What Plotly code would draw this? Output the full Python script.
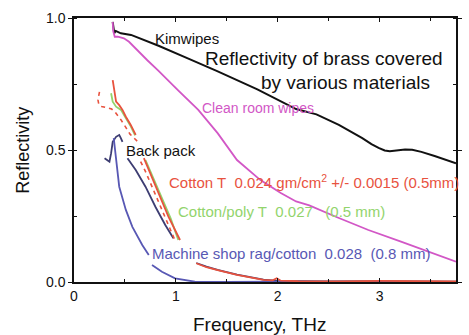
import plotly.graph_objects as go

FONT = "Arial, Liberation Sans, sans-serif"

# ---- data ----
kim_x = [0.38, 0.385, 0.395, 0.41, 0.46, 0.56, 0.83, 1.10, 1.40, 1.80, 2.18, 2.38, 2.60, 2.83, 2.92,
         2.99, 3.05, 3.10, 3.17, 3.25, 3.32, 3.41, 3.54, 3.66, 3.75]
kim_y = [0.985, 0.96, 0.943, 0.951, 0.942, 0.936, 0.895, 0.85, 0.80, 0.73, 0.655, 0.635, 0.595, 0.545,
         0.522, 0.508, 0.498, 0.495, 0.497, 0.502, 0.501, 0.493, 0.477, 0.462, 0.45]

clean_x = [0.38, 0.385, 0.40, 0.43, 0.49, 0.54, 0.72, 0.83, 1.02, 1.22, 1.41, 1.60, 1.83, 2.03, 2.18,
           2.31, 2.57, 2.89, 3.21, 3.47, 3.66, 3.75]
clean_y = [0.985, 0.95, 0.929, 0.929, 0.923, 0.91, 0.84, 0.80, 0.727, 0.652, 0.564, 0.462, 0.386,
           0.337, 0.305, 0.29, 0.247, 0.197, 0.153, 0.115, 0.09, 0.077]

cotton_x = [0.38, 0.396, 0.413, 0.444, 0.476, 0.509, 0.557, 0.606, None,
            0.686, 0.734, 0.831, 0.928, 1.041, None,
            1.20, 1.30, 1.41, 1.60, 1.86, 1.95, 1.99, 2.03, 2.20, 2.60, 3.00, 3.40, 3.75]
cotton_y = [0.765, 0.727, 0.683, 0.670, 0.652, 0.626, 0.595, 0.557, None,
            0.469, 0.424, 0.336, 0.247, 0.159, None,
            0.071, 0.056, 0.045, 0.027, 0.008, 0.006, 0.014, 0.005, 0.003, 0.002, 0.004, 0.002, 0.002]

cotton2_x = [0.25, 0.235, 0.245, 0.27, 0.33, 0.37, 0.40, 0.46, 0.51, 0.55, 0.59, 0.63, None,
             0.654, 0.70, 0.795, 0.89, 0.99]
cotton2_y = [0.72, 0.69, 0.67, 0.665, 0.66, 0.655, 0.645, 0.615, 0.585, 0.56, 0.545, 0.53, None,
             0.456, 0.42, 0.335, 0.247, 0.159]

poly_x = [0.364, 0.380, 0.413, 0.461, 0.51, 0.557, 0.60, None, 0.702, 0.75, 0.85, 0.95, 1.024]
poly_y = [0.715, 0.683, 0.664, 0.652, 0.62, 0.59, 0.555, None, 0.462, 0.42, 0.33, 0.24, 0.159]

back_x = [0.30, 0.348, 0.364, 0.380, 0.413, 0.444, 0.461, 0.476, None,
          0.525, 0.606, 0.702, 0.799, 0.896, 0.976, None,
          1.20, 1.30, 1.41, 1.60, 1.86, 2.00, 2.50, 3.00, 3.75]
back_y = [0.469, 0.456, 0.487, 0.531, 0.550, 0.557, 0.544, 0.531, None,
          0.469, 0.424, 0.361, 0.285, 0.216, 0.166, None,
          0.072, 0.058, 0.046, 0.028, 0.009, 0.004, 0.002, 0.003, 0.001]

rag_x = [0.39, 0.40, 0.413, 0.428, 0.444, 0.509, 0.573, 0.670, 0.734, None,
         0.766, 0.863, 0.992, 1.186, 1.50, 2.00, 3.00, 3.75]
rag_y = [0.545, 0.51, 0.462, 0.424, 0.361, 0.273, 0.209, 0.140, 0.102, None,
         0.064, 0.039, 0.014, 0.001, 0.0, 0.001, 0.0, 0.0]

x_ticks = [0, 1, 2, 3]
y_ticks = [0.0, 0.5, 1.0]

BLACK = "#111111"
PINK = "#d257c6"
RED = "#e8523e"
GREEN = "#92d46c"
NAVY = "#3d3d72"
BLUE = "#5858b4"

fig = go.Figure()
fig.add_trace(go.Scatter(x=kim_x, y=kim_y, mode="lines", line=dict(color=BLACK, width=2)))
fig.add_trace(go.Scatter(x=clean_x, y=clean_y, mode="lines", line=dict(color=PINK, width=1.8)))
fig.add_trace(go.Scatter(x=back_x, y=back_y, mode="lines", line=dict(color=NAVY, width=1.8)))
fig.add_trace(go.Scatter(x=rag_x, y=rag_y, mode="lines", line=dict(color=BLUE, width=1.8)))
fig.add_trace(go.Scatter(x=cotton2_x, y=cotton2_y, mode="lines",
                         line=dict(color=RED, width=1.6, dash="4px,4px")))
fig.add_trace(go.Scatter(x=poly_x, y=poly_y, mode="lines", line=dict(color=GREEN, width=1.8)))
fig.add_trace(go.Scatter(x=cotton_x, y=cotton_y, mode="lines", line=dict(color=RED, width=1.8)))


def px2x(px):
    return (px - 74) / 103.5


def px2y(py):
    return (282 - py) / 264


labels = [
    ("Kimwipes", 155, 38, BLACK, 15),
    ("Reflectivity of brass covered", 206, 58, BLACK, 19),
    ("by various materials", 263, 82, BLACK, 19),
    ("Clean room wipes", 203, 108, PINK, 14),
    ("Back pack", 126, 150, BLACK, 15),
    ("Cotton T\u00a0\u00a00.024 gm/cm<sup>2</sup> +/- 0.0015 (0.5mm)", 169, 181, RED, 15),
    ("Cotton/poly T\u00a0\u00a00.027\u00a0\u00a0\u00a0(0.5 mm)", 179, 211, GREEN, 15),
    ("Machine shop rag/cotton\u00a0\u00a00.028\u00a0\u00a0(0.8 mm)", 152, 253, BLUE, 15),
]
for text, px, py, col, size in labels:
    fig.add_annotation(x=px2x(px), y=px2y(py), xref="x", yref="y", text=text, showarrow=False,
                       xanchor="left", yanchor="middle", font=dict(family=FONT, size=size, color=col),
                       borderpad=0)

fig.add_annotation(x=(22 - 74) / 388, y=0.5, xref="paper", yref="paper", text="Reflectivity",
                   showarrow=False, textangle=-90, xanchor="center", yanchor="middle",
                   font=dict(family=FONT, size=18, color=BLACK))
fig.add_annotation(x=(262 - 74) / 388, y=(282 - 324) / 264, xref="paper", yref="paper",
                   text="Frequency, THz", showarrow=False, xanchor="center", yanchor="middle",
                   font=dict(family=FONT, size=19, color=BLACK))

fig.update_layout(
    width=469, height=335,
    margin=dict(l=74, r=7, t=18, b=53),
    plot_bgcolor="white", paper_bgcolor="white",
    showlegend=False,
    font=dict(family=FONT, size=14, color=BLACK),
)
fig.update_xaxes(range=[0, 3.75], tickvals=x_ticks, ticktext=[str(v) for v in x_ticks],
                 showgrid=False, zeroline=False, showline=True, linecolor=BLACK, linewidth=1.5,
                 mirror="ticks", ticks="inside", ticklen=4, tickcolor=BLACK,
                 minor=dict(dtick=0.5, ticks="inside", ticklen=3, tickcolor=BLACK),
                 tickfont=dict(family=FONT, size=14, color=BLACK))
fig.update_yaxes(range=[0, 1.0], tickvals=y_ticks, ticktext=["%.1f" % v for v in y_ticks],
                 showgrid=False, zeroline=False, showline=True, linecolor=BLACK, linewidth=1.5,
                 mirror="ticks", ticks="outside", ticklen=4, tickcolor=BLACK,
                 minor=dict(dtick=0.25, ticks="inside", ticklen=3, tickcolor=BLACK),
                 tickfont=dict(family=FONT, size=14, color=BLACK))

fig.write_html("out.html")
